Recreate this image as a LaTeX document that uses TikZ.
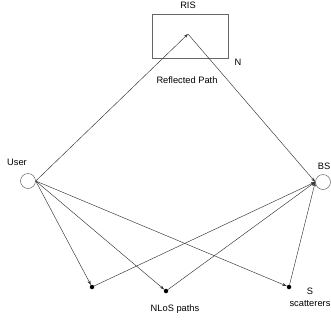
\documentclass[tikz,border=0pt]{standalone}
\usepackage{fontspec}
\setmainfont{Liberation Sans}
\usetikzlibrary{arrows.meta}
\begin{document}
\begin{tikzpicture}[x=1pt,y=-1pt,
  lbl/.style={font=\fontsize{9.3}{11}\selectfont, inner sep=0pt},
  conn/.style={draw=black!80, line width=0.45pt, -{Stealth[length=4.5pt,width=3pt]}},
  dev/.style={circle, draw=black!60, line width=0.5pt, minimum size=15pt, inner sep=0pt},
  scat/.style={circle, fill=black, minimum size=4.5pt, inner sep=0pt}]
\useasboundingbox (0,0) rectangle (331,322);
% RIS
\node[draw=black!60, line width=0.5pt, minimum width=76pt, minimum height=44pt, inner sep=0pt] (ris) at (190.5,36) {};
\node[lbl] (rislbl) at (188,5) {RIS};
\node[lbl] (N) at (238,62) {N};
\node[lbl] (refl) at (187,80) {Reflected Path};
\coordinate (rp) at (188,34);
% devices
\node[dev] (user) at (28,181) {};
\node[lbl] (userlbl) at (17,162) {User};
\node[dev] (bs) at (323,182) {};
\node[lbl] (bslbl) at (324,166) {BS};
\coordinate (uo) at (user.east);
\coordinate (bi) at (bs.west);
% scatterers
\node[scat] (s1) at (92,287) {};
\node[scat] (s2) at (166,291) {};
\node[scat] (s3) at (289,287) {};
\node[lbl] (nlos) at (175,309) {NLoS paths};
\node[lbl] (S) at (310,291) {S};
\node[lbl] (scl) at (310,304) {scatterers};
% connectors
\draw[conn] (uo) -- (rp);
\draw[conn] (rp) -- (bi);
\draw[conn] (uo) -- (s1);
\draw[conn] (uo) -- (s2);
\draw[conn] (uo) -- (s3);
\draw[conn] (s1) -- (bi);
\draw[conn] (s2) -- (bi);
\draw[conn] (s3) -- (bi);
\end{tikzpicture}
\end{document}
